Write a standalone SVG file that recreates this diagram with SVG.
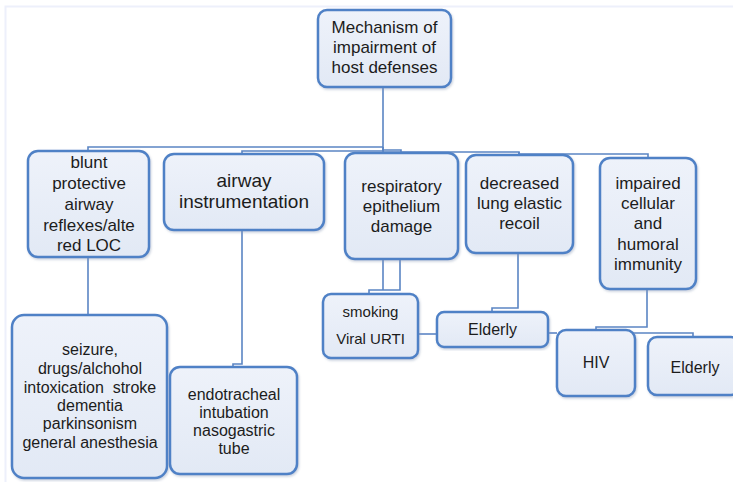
<svg xmlns="http://www.w3.org/2000/svg" width="733" height="482" viewBox="0 0 733 482">
<defs>
<linearGradient id="fill" x1="0" y1="0" x2="0" y2="1">
<stop offset="0" stop-color="#eef2fa"/>
<stop offset="1" stop-color="#e2e9f5"/>
</linearGradient>
<filter id="sh" x="-10%" y="-10%" width="120%" height="120%">
<feDropShadow dx="1" dy="1.5" stdDeviation="1.2" flood-color="#8a9ab5" flood-opacity="0.45"/>
</filter>
<style>
.box{fill:url(#fill);stroke:#4f81c6;stroke-width:2.5;filter:url(#sh)}
.t{font-family:"Liberation Sans",Arial,sans-serif;fill:#1c1c1c;text-anchor:middle}
.c{fill:none;stroke:#5b85c4;stroke-width:1.6}
.frame{fill:none;stroke:#edf0fb;stroke-width:2}
</style>
</defs>
<rect width="733" height="482" fill="#ffffff"/>
<path class="frame" d="M5.5,482 V6.5 H733"/>
<g id="connectors">
<path class="c" d="M383,87 V147 H88 V151"/>
<path class="c" d="M383,147 V151 H242 V154"/>
<path class="c" d="M383,147 V150 H401 V153"/>
<path class="c" d="M383,150 V152 H519 V155"/>
<path class="c" d="M519,152 V154 H648 V158"/>
<path class="c" d="M88,257 V315"/>
<path class="c" d="M242,230 V364 H233 V367"/>
<path class="c" d="M383,259 V290"/>
<path class="c" d="M400,259 V290 H369 V294"/>
<path class="c" d="M518,253 V308 H492 V312"/>
<path class="c" d="M418,334 H437"/>
<path class="c" d="M647,289 V327 H596 V330"/>
<path class="c" d="M630,333 H693 V337"/>
<path class="c" d="M548,333 H557"/>
</g>
<g id="root">
<rect class="box" x="318" y="10" width="133" height="77" rx="9"/>
<text class="t" font-size="17" x="384.5" y="33">Mechanism of</text>
<text class="t" font-size="17" x="384.5" y="53">impairment of</text>
<text class="t" font-size="17" x="384.5" y="73">host defenses</text>
</g>
<g id="blunt">
<rect class="box" x="28" y="151" width="121" height="106" rx="10"/>
<text class="t" font-size="17" x="89" y="168">blunt</text>
<text class="t" font-size="17" x="89" y="189">protective</text>
<text class="t" font-size="17" x="89" y="210">airway</text>
<text class="t" font-size="17" x="89" y="231">reflexes/alte</text>
<text class="t" font-size="17" x="89" y="251">red LOC</text>
</g>
<g id="airway">
<rect class="box" x="164" y="154" width="160" height="76" rx="10"/>
<text class="t" font-size="19" x="244" y="187">airway</text>
<text class="t" font-size="19" x="244" y="208">instrumentation</text>
</g>
<g id="respiratory">
<rect class="box" x="345" y="153" width="113" height="106" rx="10"/>
<text class="t" font-size="17" x="401.5" y="192">respiratory</text>
<text class="t" font-size="17" x="401.5" y="212">epithelium</text>
<text class="t" font-size="17" x="401.5" y="232">damage</text>
</g>
<g id="decreased">
<rect class="box" x="466" y="155" width="107" height="98" rx="10"/>
<text class="t" font-size="17" x="519.5" y="189">decreased</text>
<text class="t" font-size="17" x="519.5" y="209">lung elastic</text>
<text class="t" font-size="17" x="519.5" y="229">recoil</text>
</g>
<g id="impaired">
<rect class="box" x="600" y="158" width="96" height="131" rx="10"/>
<text class="t" font-size="17" x="648" y="189">impaired</text>
<text class="t" font-size="17" x="648" y="209">cellular</text>
<text class="t" font-size="17" x="648" y="229">and</text>
<text class="t" font-size="17" x="648" y="250">humoral</text>
<text class="t" font-size="17" x="648" y="270">immunity</text>
</g>
<g id="seizure">
<rect class="box" x="12" y="315" width="155" height="163" rx="12"/>
<text class="t" font-size="16" x="90" y="355">seizure,</text>
<text class="t" font-size="16" x="90" y="374">drugs/alchohol</text>
<text class="t" font-size="16" x="90" y="393" xml:space="preserve">intoxication  stroke</text>
<text class="t" font-size="16" x="90" y="411">dementia</text>
<text class="t" font-size="16" x="90" y="429">parkinsonism</text>
<text class="t" font-size="16" x="90" y="448">general anesthesia</text>
</g>
<g id="endotracheal">
<rect class="box" x="170" y="367" width="127" height="107" rx="10"/>
<text class="t" font-size="16" x="234" y="400">endotracheal</text>
<text class="t" font-size="16" x="234" y="418">intubation</text>
<text class="t" font-size="16" x="234" y="436">nasogastric</text>
<text class="t" font-size="16" x="234" y="454">tube</text>
</g>
<g id="smoking">
<rect class="box" x="323" y="294" width="95" height="64" rx="8"/>
<text class="t" font-size="15" x="370.5" y="317">smoking</text>
<text class="t" font-size="15" x="370.5" y="344">Viral URTI</text>
</g>
<g id="elderly1">
<rect class="box" x="437" y="312" width="111" height="35" rx="7"/>
<text class="t" font-size="16" x="492.5" y="335">Elderly</text>
</g>
<g id="hiv">
<rect class="box" x="557" y="330" width="78" height="66" rx="9"/>
<text class="t" font-size="16" x="596" y="368">HIV</text>
</g>
<g id="elderly2">
<rect class="box" x="648" y="337" width="92" height="58" rx="9"/>
<text class="t" font-size="16" x="695" y="373">Elderly</text>
</g>
</svg>
